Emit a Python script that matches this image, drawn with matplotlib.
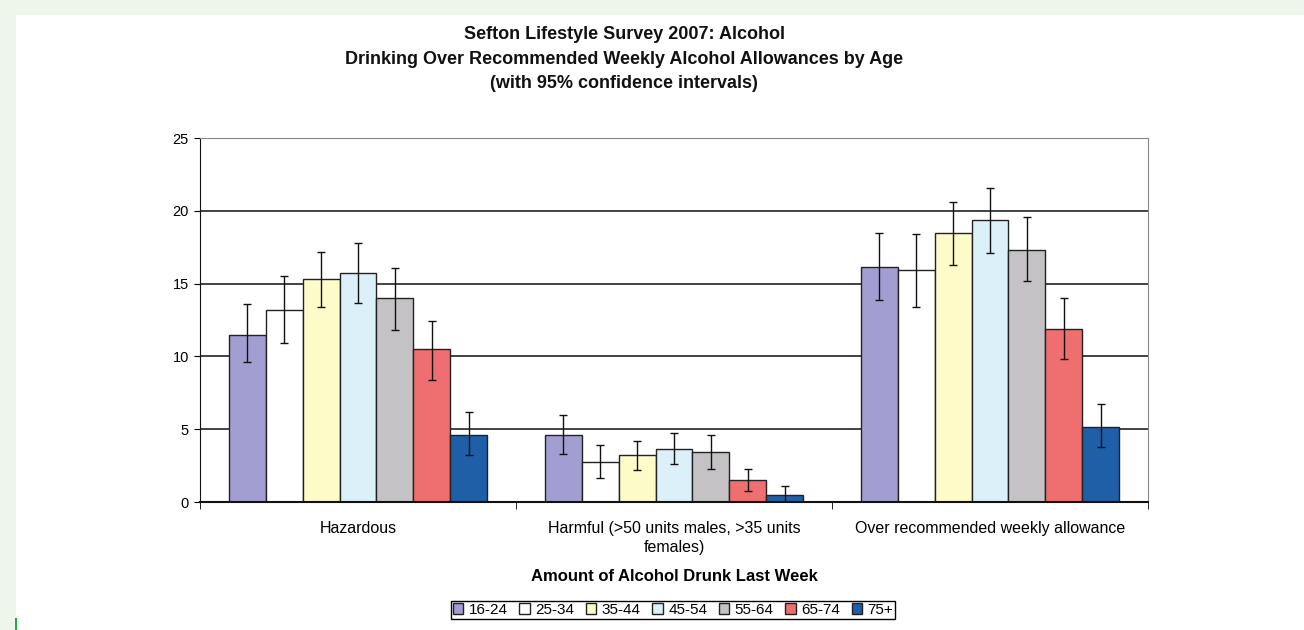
import numpy as np
import matplotlib
matplotlib.use("Agg")
import matplotlib.pyplot as plt

plt.rcParams['font.family'] = ['Liberation Sans', 'DejaVu Sans']

# categories and series
categories = ["Hazardous", "Harmful (>50 units males, >35 units\nfemales)",
              "Over recommended weekly allowance"]
age_groups = ["16-24", "25-34", "35-44", "45-54", "55-64", "65-74", "75+"]

# percentages per age group: [Hazardous, Harmful, Over allowance]
v_16_24 = [11.5, 4.6, 16.15]
v_25_34 = [13.2, 2.75, 15.9]
v_35_44 = [15.3, 3.2, 18.45]
v_45_54 = [15.7, 3.65, 19.4]
v_55_64 = [14.0, 3.4, 17.3]
v_65_74 = [10.5, 1.5, 11.9]
v_75p = [4.6, 0.5, 5.15]

# 95% confidence interval bounds (low, high)
lo_16_24 = [9.6, 3.3, 13.9]
hi_16_24 = [13.6, 6.0, 18.45]
lo_25_34 = [10.9, 1.65, 13.4]
hi_25_34 = [15.5, 3.9, 18.4]
lo_35_44 = [13.4, 2.2, 16.3]
hi_35_44 = [17.2, 4.2, 20.6]
lo_45_54 = [13.7, 2.6, 17.1]
hi_45_54 = [17.8, 4.75, 21.6]
lo_55_64 = [11.8, 2.3, 15.2]
hi_55_64 = [16.1, 4.6, 19.6]
lo_65_74 = [8.4, 0.75, 9.8]
hi_65_74 = [12.45, 2.3, 14.0]
lo_75p = [3.2, 0.0, 3.8]
hi_75p = [6.2, 1.1, 6.7]

values = [v_16_24, v_25_34, v_35_44, v_45_54, v_55_64, v_65_74, v_75p]
lows = [lo_16_24, lo_25_34, lo_35_44, lo_45_54, lo_55_64, lo_65_74, lo_75p]
highs = [hi_16_24, hi_25_34, hi_35_44, hi_45_54, hi_55_64, hi_65_74, hi_75p]

colors = ["#a29ed2", "#ffffff", "#fdfbc8", "#dcf0fa", "#c4c2c4", "#ef6e70", "#1f5fa8"]

fig = plt.figure(figsize=(13.04, 6.30), dpi=100)
fig.patch.set_facecolor("#eef5ea")
# white panel behind the chart
fig.patches.append(plt.Rectangle((16 / 1304, 0), 1 - 16 / 1304, 1 - 15 / 630,
                                 transform=fig.transFigure, facecolor="white",
                                 edgecolor="none", zorder=-10))
fig.patches.append(plt.Rectangle((15 / 1304, 0), 2 / 1304, 12 / 630,
                                 transform=fig.transFigure, facecolor="#22aa44",
                                 edgecolor="none", zorder=-5))

ax = fig.add_axes([200 / 1304, 1 - 502 / 630, 948 / 1304, 364 / 630])
ax.set_facecolor("none")

x = np.arange(len(categories))
w = 0.117
for i, (vals, lo, hi, c) in enumerate(zip(values, lows, highs, colors)):
    vals = np.array(vals)
    err = [vals - np.array(lo), np.array(hi) - vals]
    ax.bar(x + (i - 3) * w, vals, w, color=c, edgecolor="#222222", linewidth=1,
           label=age_groups[i], zorder=2)
    ax.errorbar(x + (i - 3) * w, vals, yerr=err, fmt="none", ecolor="#111111",
                elinewidth=1, capsize=3, capthick=1, zorder=3)

ax.set_xlim(-0.5, 2.5)
ax.set_ylim(0, 25)
ax.set_yticks([0, 5, 10, 15, 20, 25])
ax.yaxis.grid(True, color="#222222", linewidth=1.2)
ax.set_axisbelow(True)

ax.set_xticks(x)
ax.set_xticklabels(categories, fontsize=11.5)
for lab in ax.get_xticklabels():
    lab.set_linespacing(1.3)
ax.set_xticks([-0.5, 0.5, 1.5, 2.5], minor=True)
ax.tick_params(axis="x", which="major", length=0, pad=14)
ax.tick_params(axis="x", which="minor", length=5, direction="out")
ax.tick_params(axis="y", length=4, direction="out", labelsize=10.5, pad=4)

for s in ["top", "right"]:
    ax.spines[s].set_color("#888888")
ax.spines["left"].set_color("#111111")
ax.spines["bottom"].set_color("#111111")
ax.spines["bottom"].set_linewidth(1.5)

ax.set_xlabel("Amount of Alcohol Drunk Last Week", fontsize=12, fontweight="bold",
              labelpad=10)

fig.text(624 / 1304, 1 - 59 / 630,
         "Sefton Lifestyle Survey 2007: Alcohol\n"
         "Drinking Over Recommended Weekly Alcohol Allowances by Age\n"
         "(with 95% confidence intervals)",
         ha="center", va="center", fontsize=13, fontweight="bold",
         linespacing=1.6, color="#111111")

leg = fig.legend(loc="center", bbox_to_anchor=(673 / 1304, 1 - 610 / 630), ncol=7,
                 fontsize=11, handlelength=0.7, handleheight=0.7, handletextpad=0.35,
                 columnspacing=0.75, borderpad=0.1, fancybox=False, framealpha=1)
leg.get_frame().set_edgecolor("black")
leg.get_frame().set_linewidth(1)

fig.savefig("out.png", dpi=100, facecolor=fig.get_facecolor())
